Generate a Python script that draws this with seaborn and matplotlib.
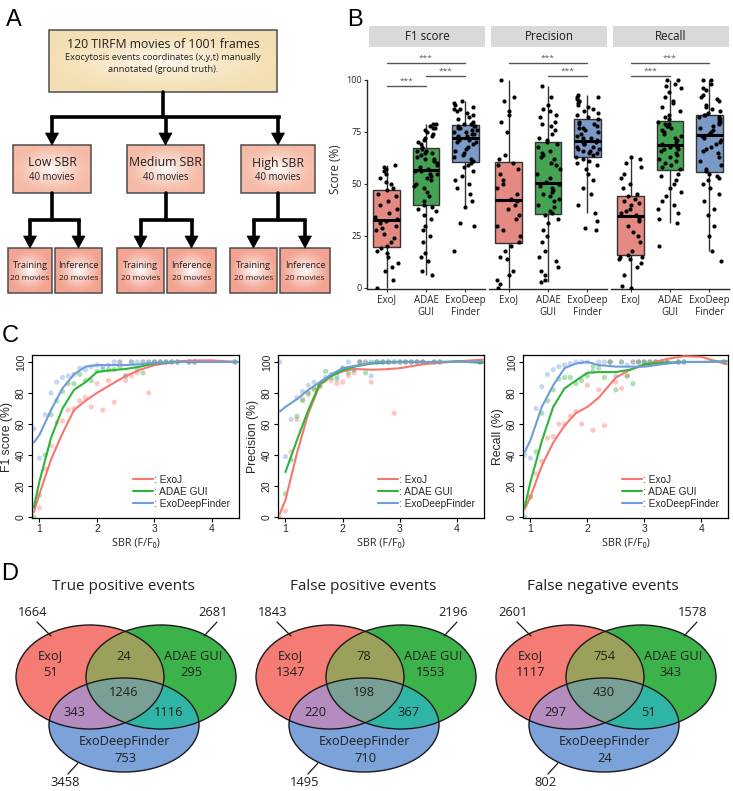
import numpy as np
import pandas as pd
import matplotlib
matplotlib.use('Agg')
import matplotlib.pyplot as plt
from matplotlib.patches import Rectangle, Ellipse, Polygon
from matplotlib.lines import Line2D
import seaborn as sns

sns.set_style('ticks')
plt.rcParams['font.family'] = ['Open Sans', 'DejaVu Sans']

# ---------------- data ----------------
methods = ['ExoJ', 'ADAE GUI', 'ExoDeepFinder']
box_colors = ['#F47C72', '#36B24A', '#6F98D4']
line_colors = ['#F8766D', '#2DB53A', '#6F9BDB']
metrics = ['F1 score', 'Precision', 'Recall']
tick_names = ['ExoJ', 'ADAE\nGUI', 'ExoDeep\nFinder']

# panel B: per-movie scores (%)
f1_exoj = [0, 4, 8, 10, 12, 15, 17, 18, 19, 20, 22, 24, 26, 28, 29, 30, 31, 32,
           33, 34, 36, 38, 40, 42, 44, 45, 47, 48, 50, 51, 53, 55, 56, 57, 58, 59]
f1_adae = [6, 8, 13, 15, 17, 22, 25, 28, 30, 33, 35, 37, 38, 39,
           40, 42, 44, 46, 48, 49, 50, 52, 53, 54, 55, 55, 56, 56,
           57, 58, 59, 60, 61, 62, 62, 63, 64, 65, 65, 66, 66, 67,
           68, 69, 70, 71, 72, 73, 74, 75, 76, 77, 77, 78, 79, 79]
f1_deep = [18, 30, 31, 39, 42, 45, 48, 50, 52, 54, 56, 58, 59, 60,
           61, 62, 63, 64, 65, 66, 67, 68, 69, 70, 70, 71, 71, 72,
           72, 73, 73, 74, 74, 75, 75, 76, 76, 77, 77, 78, 78, 78,
           79, 79, 80, 81, 82, 83, 84, 85, 86, 86, 87, 88, 89, 90]
prec_exoj = [0, 2, 4, 6, 8, 14, 15, 18, 20, 22, 25, 28, 30, 33, 35, 38, 40, 42,
             43, 45, 48, 50, 52, 55, 57, 59, 60, 62, 64, 75, 80, 83, 85, 90, 92, 100]
prec_adae = [3, 4, 6, 8, 10, 13, 15, 18, 22, 25, 28, 31, 33, 35,
             36, 37, 39, 40, 42, 43, 44, 45, 46, 47, 48, 49, 50, 50,
             51, 53, 55, 57, 59, 60, 62, 63, 64, 65, 66, 68, 69, 70,
             71, 72, 74, 76, 78, 79, 80, 82, 83, 85, 86, 88, 92, 97]
prec_deep = [28, 29, 32, 36, 40, 45, 48, 52, 55, 57, 59, 60, 61, 62,
             63, 64, 65, 65, 66, 66, 67, 67, 68, 68, 69, 69, 70, 70,
             71, 72, 72, 73, 74, 75, 76, 77, 77, 78, 79, 79, 80, 81,
             82, 83, 84, 85, 86, 87, 88, 89, 90, 90, 91, 92, 92, 93]
rec_exoj = [0, 1, 6, 10, 12, 14, 14, 15, 15, 16, 18, 22, 25, 27, 30, 32, 33, 34,
            35, 36, 37, 38, 40, 41, 42, 43, 44, 45, 48, 50, 53, 55, 58, 60, 62, 63]
rec_adae = [20, 31, 33, 36, 38, 40, 42, 44, 46, 48, 50, 52, 54, 55,
            57, 58, 59, 60, 61, 62, 63, 64, 65, 66, 67, 67, 68, 68,
            69, 70, 71, 72, 73, 74, 75, 76, 77, 78, 78, 79, 79, 80,
            81, 82, 83, 85, 87, 89, 90, 92, 94, 96, 97, 98, 100, 100]
rec_deep = [13, 18, 25, 30, 35, 38, 42, 45, 48, 50, 52, 53, 54, 55,
            56, 57, 59, 61, 63, 65, 66, 67, 68, 69, 70, 71, 72, 73,
            74, 75, 76, 77, 78, 79, 80, 80, 81, 81, 82, 82, 83, 83,
            84, 85, 86, 87, 88, 90, 91, 92, 93, 95, 96, 98, 100, 100]

# significance bars: (group a, group b, level)
sig_bars = {'F1 score': [(0, 2, 3), (1, 2, 2), (0, 1, 1)],
            'Precision': [(0, 2, 3), (1, 2, 2)],
            'Recall': [(0, 2, 3), (0, 1, 2)]}

# panel C: scores per movie vs SBR
sbr = [0.9, 1.0, 1.1, 1.2, 1.3, 1.4, 1.5, 1.6, 1.7, 1.8, 1.9, 2.0, 2.1, 2.2, 2.3,
       2.4, 2.5, 2.6, 2.7, 2.8, 2.9, 3.0, 3.1, 3.2, 3.3, 3.4, 3.6, 3.7, 4.4]
f1_pts = {
    'ExoJ': [None, 6, 31, 46, 61, 62, 69, 70, 75, 77, 71, 86, 69, 88, 74, 100, 88, 91, 93, 100, 80, 100, 100, 100, 100, 100, 100, 100, 100],
    'ADAE GUI': [0, 14, 40, 66, 75, 81, 86, 86, 92, 88, 88, 94, 95, 95, 95, 97, 91, 100, 95, 93, 100, 100, 100, 100, 100, 100, 100, 100, 100],
    'ExoDeepFinder': [57, 38, 66, 80, 87, 90, 91, 92, 96, 95, 97, 98, 97, 98, 100, 100, 91, 100, 100, 100, 100, 100, 100, 100, 100, 100, 100, 100, 100]}
prec_pts = {
    'ExoJ': [0, 4, 42, 63, 76, 79, 82, 85, 88, 88, 86, 87, 91, 93, 100, 100, 87, 100, 100, 100, 67, 100, 100, 100, 100, 100, 100, 100, 100],
    'ADAE GUI': [None, 15, 37, 65, 75, 80, 83, 84, 94, 90, 89, 96, 93, 95, 100, 93, 100, 100, 100, 100, 100, 100, 100, 100, 100, 100, 100, 100, 100],
    'ExoDeepFinder': [100, 39, 63, 77, 81, 85, 87, 85, 90, 92, 91, 96, 100, 95, 100, 100, 91, 100, 100, 100, 100, 100, 100, 100, 100, 100, 100, 100, 100]}
rec_pts = {
    'ExoJ': [None, 13, 28, 36, 51, 52, 60, 60, 65, 68, 60, 85, 56, 82, 59, 100, 87, 83, 91, 100, 100, 100, 100, 100, 100, 100, 100, 100, 100],
    'ADAE GUI': [0, 13, 42, 67, 75, 82, 89, 90, 90, 86, 88, 91, 97, 96, 90, 100, 82, 100, 91, 86, 100, 100, 100, 100, 100, 100, 100, 100, 100],
    'ExoDeepFinder': [40, 38, 70, 84, 92, 95, 97, 98, 99, 100, 100, 100, 94, 100, 100, 100, 91, 100, 98, 100, 100, 100, 100, 100, 100, 100, 100, 100, 100]}

# smoothed trend curves
curve_x = [0.9, 1.0, 1.2, 1.4, 1.6, 1.8, 2.0, 2.2, 2.5, 2.75, 3.0, 3.4, 3.7, 4.0, 4.45]
f1_curve = {
    'ExoJ': [3, 15, 37, 54, 69, 75, 80, 84.5, 91, 95, 98, 100.4, 101, 101, 100],
    'ADAE GUI': [6, 23, 51, 70, 82, 87, 93.5, 94.5, 95.5, 97, 99, 100, 100, 100, 100],
    'ExoDeepFinder': [48, 53, 69, 83, 92, 97, 98, 98, 98, 98.5, 99.4, 100, 100, 100, 100]}
prec_curve = {
    'ExoJ': [2, 11, 41, 67, 85, 91, 94, 95.5, 95, 95.3, 96, 98.5, 99.5, 100.4, 101.5],
    'ADAE GUI': [None, 29, 49.5, 69, 86, 91, 94.6, 97, 99, 99.6, 100, 100, 100, 100.4, 99.4],
    'ExoDeepFinder': [68, 71, 76, 82, 87, 92, 96, 97.4, 99.5, 100, 100, 100, 100, 100, 100.3]}
rec_curve = {
    'ExoJ': [5, 13, 33, 48, 59, 67, 71, 77, 90, 95, 98, 102, 103.7, 103.3, 98.5],
    'ADAE GUI': [6.5, 22.6, 49, 71, 83, 88, 93, 93.5, 93.5, 95, 98.5, 99.6, 100, 100, 100.4],
    'ExoDeepFinder': [42, 49.5, 71, 85, 96, 99, 100, 98, 97, 97, 97, 99, 100, 100, 100.4]}
c_ylabels = ['F1 score (%)', 'Precision (%)', 'Recall (%)']

# panel D: venn counts (ExoJ only, ADAE only, EDF only), (J&A, J&D, A&D), all three
venn_titles = ['True positive events', 'False positive events', 'False negative events']
venn_only = [[51, 295, 753], [1347, 1553, 710], [1117, 343, 24]]
venn_pairs = [[24, 343, 1116], [78, 220, 367], [754, 297, 51]]
venn_all = [1246, 198, 430]
venn_totals = [[1664, 2681, 3458], [1843, 2196, 1495], [2601, 1578, 802]]

# ---------------- figure ----------------
W, H = 733, 791
fig = plt.figure(figsize=(W / 100, H / 100), dpi=100)
ov = fig.add_axes([0, 0, 1, 1], zorder=5)
ov.axis('off')


def frac(left, top, right, bottom):
    return [left / W, (H - bottom) / H, (right - left) / W, (bottom - top) / H]


def grad_box(x0, y0, x1, y1, edge, strength):
    nx, ny = int((x1 - x0) * 2), int((y1 - y0) * 2)
    X, Y = np.meshgrid(np.linspace(-1, 1, nx), np.linspace(-1, 1, ny))
    r = np.clip(np.sqrt(X ** 2 + Y ** 2), 0, 1)
    t = ((1 - r) ** 1.3 * strength)[..., None]
    col = np.array(matplotlib.colors.to_rgb(edge))
    img = col * (1 - t) + t
    ov.imshow(img, extent=(x0, x1, y1, y0), interpolation='bilinear', aspect='auto', zorder=1)
    ov.add_patch(Rectangle((x0, y0), x1 - x0, y1 - y0, fill=False, ec='#4d4d4d', lw=1.1, zorder=2))


def arrow_down(x, y0, y1):
    ov.plot([x, x], [y0, y1 - 11], color='black', lw=2.6, solid_capstyle='butt', zorder=3)
    ov.add_patch(Polygon([[x - 6.5, y1 - 12], [x + 6.5, y1 - 12], [x, y1]], closed=True,
                         fc='black', ec='black', lw=0.5, zorder=3))


txt = '#231F20'
# ---------- panel A ----------
grad_box(49, 30, 277, 92, '#F4E0B4', 0.75)
ov.text(163, 44, '120 TIRFM movies of 1001 frames', ha='center', va='center', fontsize=8.8, color=txt, zorder=4)
ov.text(163, 58, 'Exocytosis events coordinates (x,y,t) manually', ha='center', va='center', fontsize=6.7, color=txt, zorder=4)
ov.text(163, 70, 'annotated (ground truth).', ha='center', va='center', fontsize=6.7, color=txt, zorder=4)
ov.plot([163, 163], [92, 117], color='black', lw=2.6, zorder=3)
ov.plot([52, 279], [117, 117], color='black', lw=2.6, solid_capstyle='projecting', zorder=3)
mid_boxes = [(13, 91, 'Low SBR'), (127, 204, 'Medium SBR'), (241, 315, 'High SBR')]
bot_pairs = [((8, 52), (55, 102)), ((117, 164), (167, 216)), ((230, 277), (280, 330))]
for (x0, x1, name), pair in zip(mid_boxes, bot_pairs):
    cx = (x0 + x1) / 2
    arrow_down(cx, 117, 145)
    grad_box(x0, 145, x1, 193, '#F5BBA7', 0.95)
    ov.text(cx, 163, name, ha='center', va='center', fontsize=8.8, color=txt, zorder=4)
    ov.text(cx, 178, '40 movies', ha='center', va='center', fontsize=6.9, color=txt, zorder=4)
    ov.plot([cx, cx], [193, 220], color='black', lw=2.6, zorder=3)
    bx = [(a + b) / 2 for a, b in pair]
    ov.plot([bx[0], bx[1]], [220, 220], color='black', lw=2.6, solid_capstyle='projecting', zorder=3)
    for (a, b), lab in zip(pair, ['Training', 'Inference']):
        arrow_down((a + b) / 2, 220, 248)
        grad_box(a, 248, b, 293, '#F3A391', 1.0)
        ov.text((a + b) / 2, 266, lab, ha='center', va='center', fontsize=6.7, color=txt, zorder=4)
        ov.text((a + b) / 2, 279, '20 movies', ha='center', va='center', fontsize=6.0, color=txt, zorder=4)

# panel letters
for lab, x, y in [('A', 14, 20), ('B', 355, 20), ('C', 10, 336), ('D', 10, 574)]:
    ov.text(x, y, lab, ha='center', va='center', fontsize=17, color='black',
            family=['Liberation Sans', 'DejaVu Sans'], zorder=4)

# ---------- panel B ----------
groups = {'F1 score': [f1_exoj, f1_adae, f1_deep],
          'Precision': [prec_exoj, prec_adae, prec_deep],
          'Recall': [rec_exoj, rec_adae, rec_deep]}
rows = []
for metric in metrics:
    for m, vals in zip(methods, groups[metric]):
        for v in vals:
            rows.append((metric, m, v))
box_df = pd.DataFrame(rows, columns=['metric', 'method', 'score'])

np.random.seed(7)
level_y = {1: 97, 2: 102, 3: 108.2}
b_lefts = [367, 489, 611]
for i, (metric, L) in enumerate(zip(metrics, b_lefts)):
    ax = fig.add_axes(frac(L, 50, L + 118, 289))
    d = box_df[box_df['metric'] == metric]
    sns.boxplot(data=d, x='method', y='score', hue='method', order=methods, hue_order=methods,
                palette=box_colors, legend=False, width=0.68, showfliers=False, showcaps=False,
                linewidth=1.0, linecolor='#333333',
                medianprops=dict(color='black', linewidth=2.2), ax=ax)
    sns.stripplot(data=d, x='method', y='score', order=methods, color='black', size=3,
                  jitter=0.3, ax=ax, zorder=4)
    ax.set_xlim(-0.5, 2.5)
    ax.set_ylim(-0.5, 114.4)
    ax.set_xlabel('')
    ax.set_xticks(range(3))
    ax.set_xticklabels(tick_names, fontsize=7, linespacing=1.15)
    ax.tick_params(axis='x', length=2.5, width=0.8, pad=1.5, color='#333333')
    sns.despine(ax=ax)
    ax.spines['bottom'].set_linewidth(1.0)
    if i == 0:
        ax.set_yticks([0, 25, 50, 75, 100])
        ax.tick_params(axis='y', labelsize=6.5, length=2.5, width=0.8, pad=1.5, color='#333333')
        ax.spines['left'].set_bounds(0, 100)
        ax.spines['left'].set_linewidth(1.0)
        ax.set_ylabel('Score (%)', fontsize=8.3, labelpad=3)
    else:
        ax.set_yticks([])
        ax.set_ylabel('')
        ax.spines['left'].set_visible(False)
    for a, b, lev in sig_bars[metric]:
        y = level_y[lev]
        ax.plot([a, b], [y, y], color='#555555', lw=1.0)
        ax.text((a + b) / 2, y + 0.6, '***', ha='center', va='bottom', fontsize=6, color='#555555')
    ov.add_patch(Rectangle((L + 2, 26), 116, 21, fc='#D9D9D9', ec='none', zorder=1))
    ov.text(L + 60, 37, metric, ha='center', va='center', fontsize=8.3, color='#1a1a1a', zorder=4)

# ---------- panel C ----------
c_pts = [f1_pts, prec_pts, rec_pts]
c_crv = [f1_curve, prec_curve, rec_curve]
c_lefts = [(32, 239), (278, 484), (523, 728)]
cfont = ['Liberation Sans', 'DejaVu Sans']
for k, (l, r) in enumerate(c_lefts):
    ax = fig.add_axes(frac(l, 355, r, 518))
    for m, col in zip(methods, line_colors):
        xs = [s for s, v in zip(sbr, c_pts[k][m]) if v is not None]
        ys = [v for v in c_pts[k][m] if v is not None]
        sns.scatterplot(x=xs, y=ys, color=col, alpha=0.4, s=14, edgecolor='none', ax=ax, zorder=2)
    for m, col in zip(methods, line_colors):
        xs = [s for s, v in zip(curve_x, c_crv[k][m]) if v is not None]
        ys = [v for v in c_crv[k][m] if v is not None]
        sns.lineplot(x=xs, y=ys, color=col, lw=1.5, estimator=None, ax=ax, zorder=3)
    ax.set_xlim(0.87, 4.47)
    ax.set_ylim(-0.6, 104.5)
    ax.set_xticks([1, 2, 3, 4])
    ax.set_yticks([0, 20, 40, 60, 80, 100])
    for sp in ax.spines.values():
        sp.set_visible(True)
        sp.set_color('black')
        sp.set_linewidth(0.9)
    ax.tick_params(axis='both', length=3, width=0.8, color='black', labelsize=7.5, pad=1.5)
    ax.tick_params(axis='y', labelrotation=90)
    for t in ax.get_xticklabels() + ax.get_yticklabels():
        t.set_family(cfont)
    for t in ax.get_yticklabels():
        t.set_va('center')
    ax.set_ylabel(c_ylabels[k], fontsize=8.8, labelpad=2, family=cfont)
    ax.set_xlabel('SBR (F/F₀)', fontsize=7.8, labelpad=3)
    handles = [Line2D([0], [0], color=c, lw=1.5) for c in line_colors]
    ax.legend(handles, [': ' + m for m in methods], loc='lower right', frameon=False,
              prop={'family': cfont, 'size': 7.3}, handlelength=2.0, handletextpad=0.1,
              labelspacing=0.2, borderaxespad=0.5)

# ---------- panel D ----------
venn_fill = ['#F47C74', '#3BB44A', '#9BA15B', '#7BA2DA', '#B58CBF', '#2EB5A6', '#7AA095']
for v in range(3):
    dx = 240 * v
    ell = [((90 + dx, 677), 74, 52), ((161 + dx, 677), 75, 52), ((124 + dx, 725), 75, 47)]
    x0, x1, y0, y1 = dx + 10, dx + 240, 618, 778
    X, Y = np.meshgrid(np.linspace(x0, x1, (x1 - x0) * 3), np.linspace(y0, y1, (y1 - y0) * 3))
    code = np.zeros(X.shape, dtype=int)
    for bit, ((cx, cy), a, b) in zip([1, 2, 4], ell):
        code += bit * ((((X - cx) / a) ** 2 + ((Y - cy) / b) ** 2) <= 1)
    lut = np.zeros((8, 4))
    for c in range(1, 8):
        lut[c] = matplotlib.colors.to_rgba(venn_fill[c - 1])
    ov.imshow(lut[code], extent=(x0, x1, y1, y0), interpolation='antialiased', aspect='auto', zorder=1)
    for (cx, cy), a, b in ell:
        ov.add_patch(Ellipse((cx, cy), 2 * a, 2 * b, fill=False, ec='#1a1a1a', lw=1.0, zorder=2))
    kw = dict(ha='center', va='center', fontsize=9.3, color=txt, zorder=4)
    ov.text(123 + dx, 587, venn_titles[v], ha='center', va='center', fontsize=11, color=txt, zorder=4)
    ov.text(50 + dx, 656, 'ExoJ', **kw)
    ov.text(51 + dx, 673, str(venn_only[v][0]), **kw)
    ov.text(193 + dx, 656, 'ADAE GUI', **kw)
    ov.text(191 + dx, 673, str(venn_only[v][1]), **kw)
    ov.text(125 + dx, 742, 'ExoDeepFinder', **kw)
    ov.text(125 + dx, 759, str(venn_only[v][2]), **kw)
    ov.text(124 + dx, 657, str(venn_pairs[v][0]), **kw)
    ov.text(75 + dx, 713, str(venn_pairs[v][1]), **kw)
    ov.text(169 + dx, 713, str(venn_pairs[v][2]), **kw)
    ov.text(124 + dx, 692, str(venn_all[v]), **kw)
    ov.text(33 + dx, 612, str(venn_totals[v][0]), **kw)
    ov.text(213 + dx, 612, str(venn_totals[v][1]), **kw)
    ov.text(65 + dx, 783, str(venn_totals[v][2]), **kw)
    ov.plot([37 + dx, 51 + dx], [622, 636], color='#1a1a1a', lw=0.9, zorder=3)
    ov.plot([217 + dx, 204 + dx], [622, 636], color='#1a1a1a', lw=0.9, zorder=3)
    ov.plot([68 + dx, 78 + dx], [774, 763], color='#1a1a1a', lw=0.9, zorder=3)

ov.set_xlim(0, W)
ov.set_ylim(H, 0)
fig.savefig('out.png', dpi=100)
